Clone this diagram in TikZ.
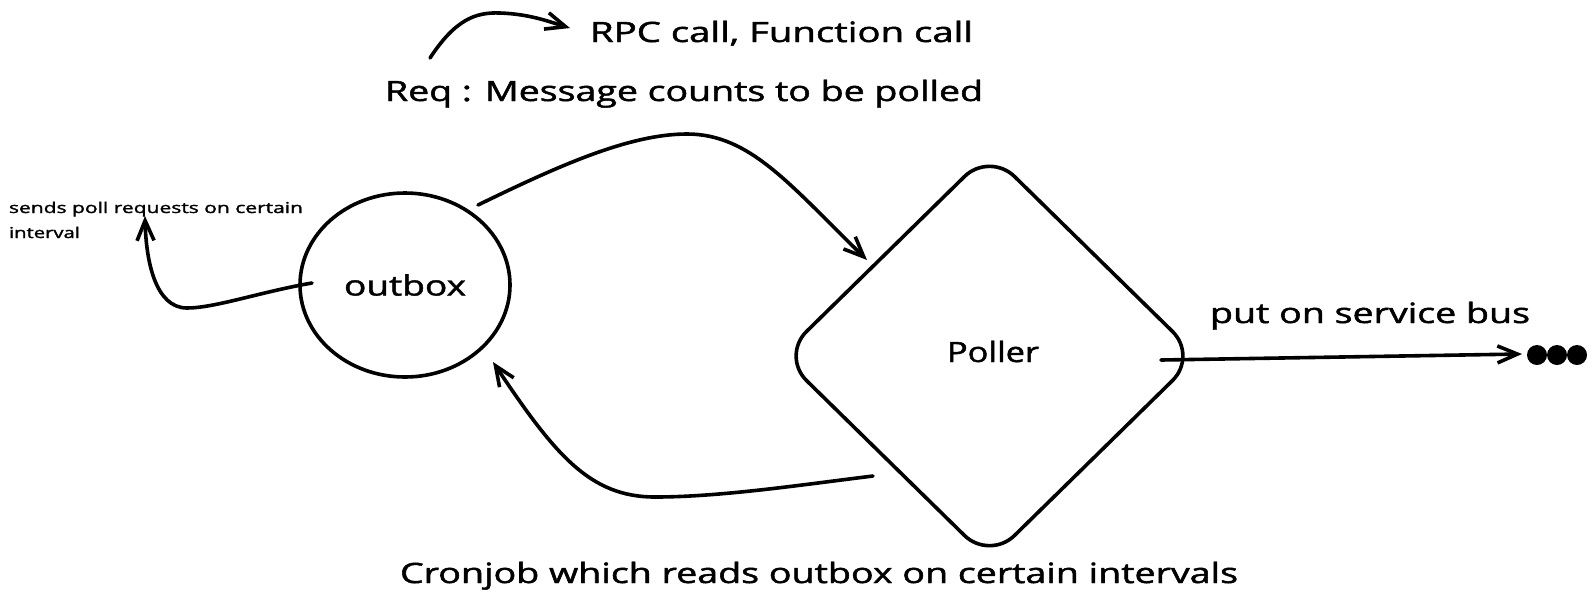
\documentclass[tikz,border=0pt]{standalone}
\usepackage{fontspec}
\setmainfont{Open Sans}[FakeBold=1.5]
\usetikzlibrary{shapes.geometric,arrows.meta,calc}
\newcommand{\fitw}[2]{\resizebox{#1}{\height}{#2}}
\begin{document}
\begin{tikzpicture}[x=1pt,y=-1pt,
  line width=3.6pt, line cap=round, line join=round,
  every node/.style={inner sep=0pt, outer sep=0pt},
  txt/.style={font=\fontsize{28}{34}\selectfont, anchor=base west},
  smalltxt/.style={font=\fontsize{15}{20}\selectfont, anchor=base west},
  arr/.style={-{Straight Barb[length=20pt,width=17pt,line width=3.6pt]}},
  boxshape/.style={draw, ellipse, minimum width=210pt, minimum height=184pt, font=\fontsize{28}{34}\selectfont},
  decision/.style={draw, diamond, minimum width=416pt, minimum height=408pt, rounded corners=35pt},
  dotn/.style={circle, fill=black, draw=none, minimum size=20pt}]
\useasboundingbox (0,0) rectangle (1589,606);

% main shapes
\node[boxshape] (outbox) at (405,285) {\fitw{122pt}{outbox}};
\node[decision] (poller) at (989.5,356) {};
\node[txt, anchor=base] (pollerlbl) at (993,362) {\fitw{92pt}{Poller}};

% texts
\node[txt] (rpc) at (590,42) {\fitw{383pt}{RPC call, Function call}};
\node[txt] (req) at (385,101) {\fitw{598pt}{Req : Message counts to be polled}};
\node[txt] (bus) at (1210,323) {\fitw{320pt}{put on service bus}};
\node[txt] (cron) at (400,583) {\fitw{838pt}{Cronjob which reads outbox on certain intervals}};
\node[smalltxt] (sends1) at (9,213) {\fitw{294pt}{sends poll requests on certain}};
\node[smalltxt] (sends2) at (9,238) {\fitw{71pt}{interval}};

% dots
\node[dotn] (dot1) at (1537,355) {};
\node[dotn] (dot2) at (1557,355) {};
\node[dotn] (dot3) at (1577,355) {};

% connector endpoints
\coordinate (a1) at ($(outbox.center)+(73,-80)$);
\coordinate (a2) at ($(poller.center)+(-122.5,-96)$);
\coordinate (b1) at ($(poller.center)+(-116.5,120)$);
\coordinate (b2) at ($(outbox.center)+(88,77)$);
\coordinate (c1) at ($(outbox.center)+(-93,-2)$);
\coordinate (c2) at ($(sends1.base west)+(136,3)$);
\coordinate (d1) at ($(poller.center)+(171.5,4)$);
\coordinate (e1) at ($(req.base west)+(45,-43)$);
\coordinate (e2) at ($(rpc.base west)+(-20,-14)$);

% connectors
\draw[arr] (a1) .. controls (560,165) and (630,134) .. (687,134)
               .. controls (750,134) and (790,185) .. (a2);
\draw[arr] (b1) .. controls (800,485) and (720,497) .. (655,497)
               .. controls (590,497) and (555,455) .. (b2);
\draw[arr] (c1) .. controls (260,292) and (215,308) .. (187,308)
               .. controls (155,308) and (146,260) .. (c2);
\draw[arr] (d1) -- ([xshift=-5pt,yshift=1pt]dot1.west);
\draw[arr] (e1) .. controls (455,20) and (475,12) .. (500,13)
               .. controls (530,14) and (550,22) .. (e2);
\end{tikzpicture}
\end{document}
